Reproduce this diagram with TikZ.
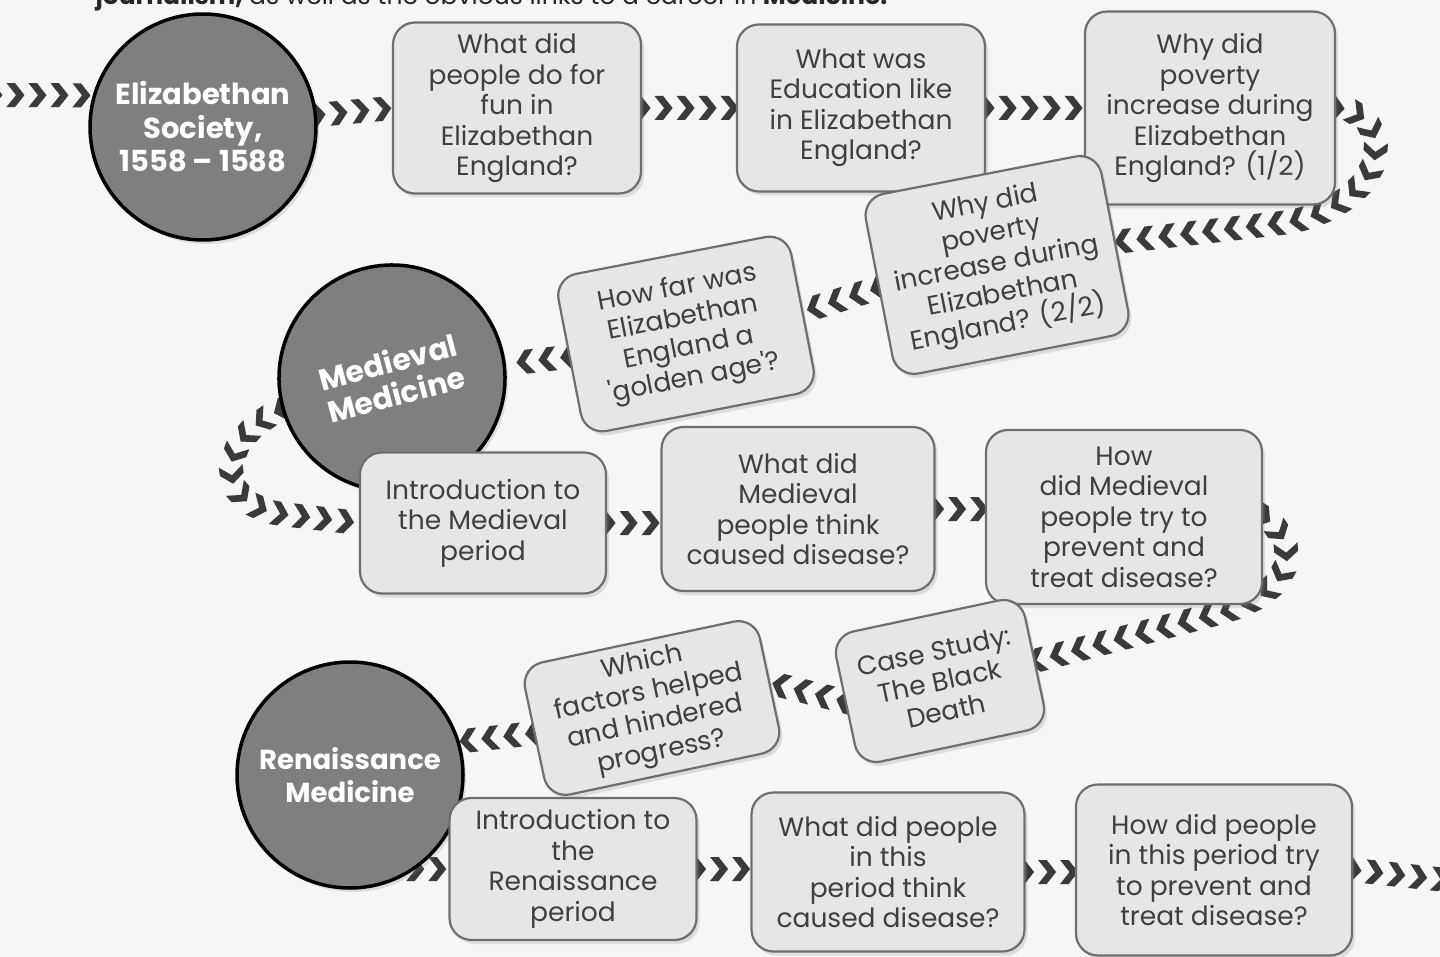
\documentclass[tikz,border=0pt]{standalone}
\usepackage{fontspec}
\setmainfont{Poppins}
\usetikzlibrary{decorations.markings,shadows}
\definecolor{boxgrey}{HTML}{E6E6E6}
\definecolor{edgegrey}{HTML}{6E6E6E}
\definecolor{inkgrey}{HTML}{3F3F3F}
\definecolor{topicgrey}{HTML}{7F7F7F}
\definecolor{chevgrey}{HTML}{3A3A3A}
\definecolor{paper}{HTML}{F6F6F6}
\pgfdeclarelayer{chevlayer}
\pgfsetlayers{chevlayer,main}

\begin{document}
\begin{tikzpicture}[x=1pt, y=-1pt,
    topic/.style={
        circle, fill=topicgrey, draw=black, line width=3.5pt,
        minimum size=226pt, inner sep=0pt,
        text=white, align=center,
        font=\fontsize{29}{33.5}\selectfont\bfseries,
        drop shadow={shadow xshift=3pt, shadow yshift=-4pt, opacity=.22}
    },
    lesson/.style={
        rounded corners=22pt, fill=boxgrey, draw=edgegrey, line width=2.2pt,
        text=inkgrey, align=center, inner sep=0pt,
        font=\fontsize{26.5}{30.5}\selectfont,
        drop shadow={shadow xshift=3pt, shadow yshift=-4pt, opacity=.22}
    },
    chevrons/.style={
        decoration={markings,
            mark=between positions 0 and 1 step 22pt with {
                \fill[chevgrey] (-9.5,-12) -- (-1,-12) -- (8.5,0) -- (-1,12) -- (-9.5,12) -- (0,0) -- cycle;
            }},
        decorate
    }
]
\clip (0,0) rectangle (1440,957);
\begin{pgfonlayer}{chevlayer}
\fill[paper] (0,0) rectangle (1440,957);
\end{pgfonlayer}

\node[anchor=base west, text=black!85, font=\fontsize{25}{28}\selectfont] (intro) at (92,5)
    {\textbf{journalism,} as well as the obvious links to a career in \textbf{Medicine.}};

% topics
\node[topic] (es) at (203,127) {Elizabethan\\Society,\\1558 – 1588};
\node[topic, rotate=15, font=\fontsize{30}{33}\selectfont\bfseries] (mm) at (392,378) {Medieval\\Medicine};
\node[topic, font=\fontsize{27.5}{33}\selectfont\bfseries] (rm) at (350,775) {Renaissance\\Medicine};

% lessons
\node[lesson, minimum width=248pt, minimum height=171pt] (b1) at (517,108) {What did\\people do for\\fun in\\Elizabethan\\England?};
\node[lesson, minimum width=248pt, minimum height=167pt] (b2) at (861,108) {What was\\Education like\\in Elizabethan\\England?};
\node[lesson, minimum width=250pt, minimum height=193pt] (b3) at (1210,108) {Why did\\poverty\\increase during\\Elizabethan\\England? (1/2)};
\node[lesson, minimum width=240pt, minimum height=183pt, rotate=11] (b4) at (997,265) {Why did\\poverty\\increase during\\Elizabethan\\England? (2/2)};
\node[lesson, minimum width=237pt, minimum height=160pt, rotate=11] (b5) at (686,334) {How far was\\Elizabethan\\England a\\\textquotesingle golden age\textquotesingle?};

\node[lesson, minimum width=246pt, minimum height=141pt] (b6) at (483,523) {Introduction to\\the Medieval\\period};
\node[lesson, minimum width=273pt, minimum height=164pt] (b7) at (798,509) {What did\\Medieval\\people think\\caused disease?};
\node[lesson, minimum width=276pt, minimum height=174pt] (b8) at (1124,517) {How\\did Medieval\\people try to\\prevent and\\treat disease?};
\node[lesson, minimum width=193pt, minimum height=133pt, rotate=12] (b9) at (940,681) {Case Study:\\The Black\\Death};

\node[lesson, minimum width=247pt, minimum height=142pt] (b11) at (573,869) {Introduction to\\the\\Renaissance\\period};
\node[lesson, minimum width=240pt, minimum height=135pt, rotate=12] (b10) at (652,708) {Which\\factors helped\\and hindered\\progress?};
\node[lesson, minimum width=273pt, minimum height=159pt] (b12) at (888,872) {What did people\\in this\\period think\\caused disease?};
\node[lesson, minimum width=276pt, minimum height=171pt] (b13) at (1214,870) {How did people\\in this period try\\to prevent and\\treat disease?};

\coordinate (lin) at (-6,95);
\coordinate (lout) at (1446,880);

% chevron trails
\begin{pgfonlayer}{chevlayer}
\path[chevrons] (lin) -- (es.164);
\path[chevrons] (es.6) -- (b1.west);
\path[chevrons] (b1.east) -- (b2.west);
\path[chevrons] (b2.east) -- (b3.west);
\path[chevrons] (b3.east) .. controls (1392,112) and (1398,198) .. (1290,222) -- (b4.east);
\path[chevrons] (b4.west) -- (b5.east);
\path[chevrons] (b5.west) -- (mm.-8);
\path[chevrons] (mm.181) .. controls (215,440) and (212,508) .. (290,515) -- (b6.west);
\path[chevrons] (b6.east) -- (b6.east -| b7.west);
\path[chevrons] (b7.east) -- (b7.east -| b8.west);
\path[chevrons] (b8.east) .. controls (1298,540) and (1302,592) .. (1215,614) -- (b9.east);
\path[chevrons] (b9.west) -- (b10.east);
\path[chevrons] (b10.west) -- (rm.17);
\path[chevrons] (rm.-55) -- (b11.west);
\path[chevrons] (b11.east) -- (b11.east -| b12.west);
\path[chevrons] (b12.east) -- (b12.east -| b13.west);
\path[chevrons] (b13.east) -- (lout);
\end{pgfonlayer}
\end{tikzpicture}
\end{document}
